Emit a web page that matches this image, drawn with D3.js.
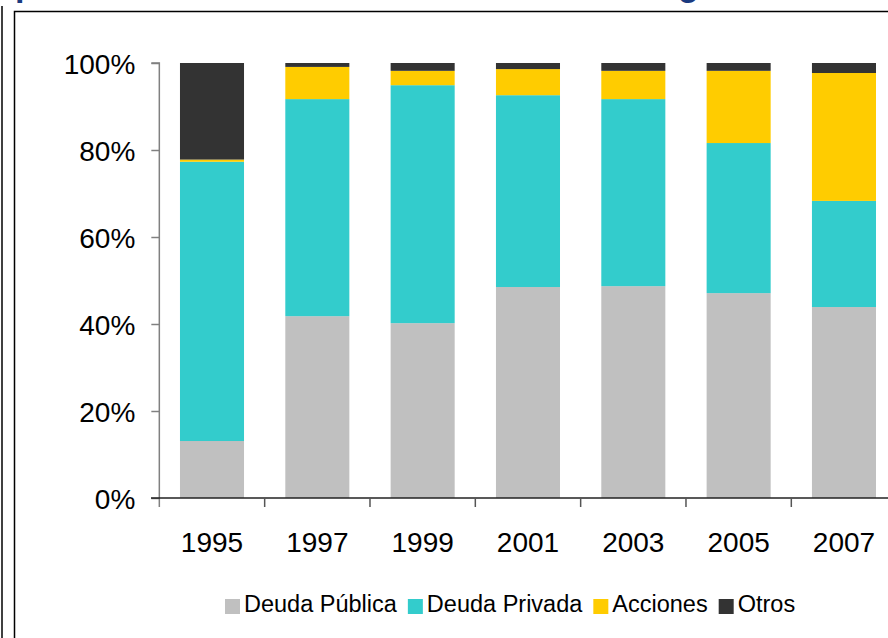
<!DOCTYPE html>
<html>
<head>
<meta charset="utf-8">
<script src="https://cdn.jsdelivr.net/npm/d3@7"></script>
<style>
  html, body { margin: 0; padding: 0; background: #fff; }
  svg { display: block; }
</style>
</head>
<body>
<script>
// ---- data ----
const years = ["1995", "1997", "1999", "2001", "2003", "2005", "2007"];
const seriesNames = ["Deuda Pública", "Deuda Privada", "Acciones", "Otros"];
const deudaPublica = [13.1, 41.8, 40.2, 48.5, 48.7, 47.1, 43.9];
const deudaPrivada = [64.2, 49.9, 54.7, 44.1, 43.0, 34.5, 24.4];
const acciones     = [0.5, 7.4, 3.3, 6.0, 6.5, 16.6, 29.4];
const otros        = [22.2, 0.9, 1.8, 1.4, 1.8, 1.8, 2.3];
const yTicks = [0, 20, 40, 60, 80, 100];
const colors = ["#c0c0c0", "#33cccc", "#ffcc00", "#333333"];

const W = 888, H = 638;
const svg = d3.select("body").append("svg").attr("width", W).attr("height", H);

// frame / title fragments
svg.append("line").attr("x1", 2).attr("x2", 2).attr("y1", 6).attr("y2", H)
  .attr("stroke", "#000").attr("stroke-width", 1.5);
svg.append("path").attr("d", `M14.5,${H} V11.5 H${W}`)
  .attr("fill", "none").attr("stroke", "#000").attr("stroke-width", 1.5);
svg.append("text").attr("x", 15).attr("y", -4).text("p")
  .attr("font-family", "Liberation Sans, Arial, sans-serif").attr("font-weight", "bold")
  .attr("font-size", 34).attr("fill", "#1a3a80");
svg.append("text").attr("x", 678).attr("y", -4).text("g")
  .attr("font-family", "Liberation Sans, Arial, sans-serif").attr("font-weight", "bold")
  .attr("font-size", 34).attr("fill", "#1a3a80");

// scales
const x0 = 159.33, bandW = 105.33;
const x = d3.scaleBand().domain(years).range([x0, x0 + bandW * years.length]).paddingInner(0.392).paddingOuter(0.196);
const y = d3.scaleLinear().domain([0, 100]).range([498, 63]);

const table = years.map((yr, i) => ({
  year: yr,
  "Deuda Pública": deudaPublica[i],
  "Deuda Privada": deudaPrivada[i],
  "Acciones": acciones[i],
  "Otros": otros[i]
}));
const stacked = d3.stack().keys(seriesNames)(table);

const font = "Liberation Sans, Arial, Helvetica, sans-serif";

// bars
svg.append("g").selectAll("g").data(stacked).join("g")
  .attr("fill", (d, i) => colors[i])
  .selectAll("rect").data(d => d).join("rect")
  .attr("x", d => x(d.data.year))
  .attr("width", x.bandwidth())
  .attr("y", d => y(d[1]))
  .attr("height", d => y(d[0]) - y(d[1]));

// y axis
const yAxis = svg.append("g").attr("transform", `translate(${x0},0)`)
  .call(d3.axisLeft(y).tickValues(yTicks).tickFormat(d => d + "%").tickSize(8).tickPadding(16));
yAxis.select(".domain").attr("d", `M-8,${y(100)}H0V${y(0) + 9}`).attr("stroke", "#808080").attr("stroke-width", 1.5);
yAxis.selectAll(".tick line").attr("stroke", "#808080").attr("stroke-width", 1.5);
yAxis.selectAll(".tick text").attr("font-family", font).attr("font-size", 28).attr("fill", "#000").attr("dy", "0.36em");

// x axis
const xBounds = years.map((d, i) => x0 + bandW * i);
const xAxisG = svg.append("g");
xAxisG.append("line").attr("x1", 151).attr("x2", W).attr("y1", y(0)).attr("y2", y(0))
  .attr("stroke", "#222").attr("stroke-width", 1.5);
xAxisG.selectAll("line.tk").data(xBounds.slice(1)).join("line").attr("class", "tk")
  .attr("x1", d => d).attr("x2", d => d).attr("y1", y(0)).attr("y2", y(0) + 9)
  .attr("stroke", "#555").attr("stroke-width", 1.5);
xAxisG.selectAll("text").data(years).join("text")
  .attr("x", d => x(d) + x.bandwidth() / 2).attr("y", 552)
  .attr("text-anchor", "middle").attr("font-family", font).attr("font-size", 28).attr("fill", "#000")
  .text(d => d);

// legend
const leg = svg.append("g");
let lx = 225;
seriesNames.forEach((name, i) => {
  leg.append("rect").attr("x", lx).attr("y", 599).attr("width", 15).attr("height", 15).attr("fill", colors[i]);
  const t = leg.append("text").attr("x", lx + 19).attr("y", 612)
    .attr("font-family", font).attr("font-size", 23.5).attr("fill", "#000").text(name);
  lx += 19 + t.node().getComputedTextLength() + 11;
});
</script>
</body>
</html>
